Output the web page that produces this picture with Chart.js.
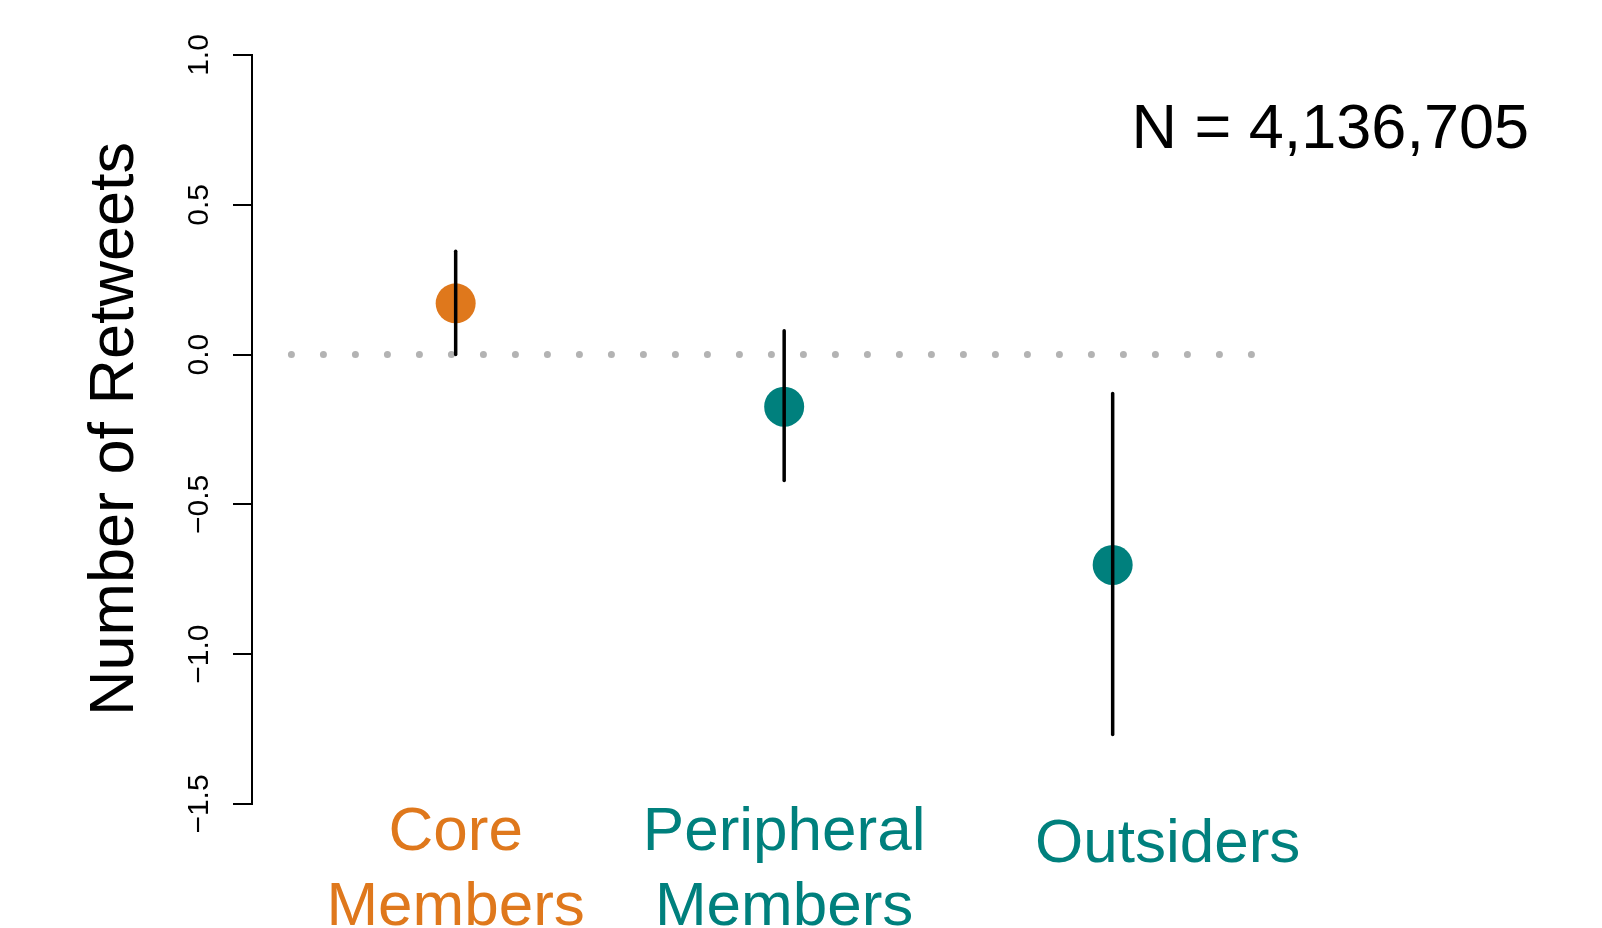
<!DOCTYPE html>
<html>
<head>
<meta charset="utf-8">
<script src="https://cdn.jsdelivr.net/npm/chart.js@4.4.1/dist/chart.umd.min.js"></script>
<style>
  html, body { margin: 0; padding: 0; background: #fff; }
  canvas { display: block; }
</style>
</head>
<body>
<canvas id="chart" width="1602" height="928"></canvas>
<script>
// data
let categorias = ['Core Members', 'Peripheral Members', 'Outsiders'];
let lineasEtiqueta = [['Core', 'Members'], ['Peripheral', 'Members'], ['Outsiders']];
let estimaciones = [0.171, -0.174, -0.702];
let limiteInferior = [0.0, -0.42, -1.268];
let limiteSuperior = [0.345, 0.08, -0.13];
let ticksY = [-1.5, -1.0, -0.5, 0.0, 0.5, 1.0];
let lineaCeroX = [0.5, 3.425];
let textoN = 'N = 4,136,705';

let colores = ['#df781c', '#00807d', '#00807d'];
let fuente = '"Liberation Sans", Arial, Helvetica, sans-serif';

let barrasError = categorias.map((c, i) => ({
    label: c + ' CI',
    type: 'line',
    data: [{ x: i + 1, y: limiteInferior[i] }, { x: i + 1, y: limiteSuperior[i] }],
    borderColor: '#000',
    borderWidth: 3.5,
    borderCapStyle: 'round',
    pointRadius: 0,
    order: 0,
}));

let datos = {
    datasets: [
        ...barrasError,
        {
            label: 'Estimate',
            type: 'line',
            showLine: false,
            data: estimaciones.map((v, i) => ({ x: i + 1, y: v })),
            pointRadius: 20,
            pointBackgroundColor: colores,
            pointBorderWidth: 0,
            order: 1,
        },
        {
            label: 'Zero',
            type: 'line',
            data: lineaCeroX.map(x => ({ x: x, y: 0 })),
            borderColor: '#b3b3b3',
            borderWidth: 7,
            borderDash: [0, 32],
            borderCapStyle: 'round',
            pointRadius: 0,
            order: 2,
        },
    ]
};

// tick labels, titles and the category names drawn as rotated / coloured text
let textos = {
    id: 'textos',
    afterDraw(chart) {
        let ctx = chart.ctx;
        let sy = chart.scales.y;
        let sx = chart.scales.x;
        ctx.save();
        ctx.fillStyle = '#000';

        // y tick labels, rotated
        ctx.font = '30px ' + fuente;
        ctx.textAlign = 'center';
        ctx.textBaseline = 'alphabetic';
        ticksY.forEach(v => {
            let py = sy.getPixelForValue(v);
            ctx.save();
            ctx.translate(208, py);
            ctx.rotate(-Math.PI / 2);
            ctx.fillText(v.toFixed(1).replace('-', '\u2212'), 0, 0);
            ctx.restore();
        });

        // y title
        ctx.font = '63px ' + fuente;
        ctx.save();
        ctx.translate(133, 429);
        ctx.rotate(-Math.PI / 2);
        ctx.fillText('Number of Retweets', 0, 0);
        ctx.restore();

        // N
        ctx.textAlign = 'right';
        ctx.fillText(textoN, 1529, 148);

        // categories
        ctx.font = '62px ' + fuente;
        ctx.textAlign = 'center';
        let desplaz = [0, 0, 55];
        lineasEtiqueta.forEach((lineas, i) => {
            let px = sx.getPixelForValue(i + 1) + desplaz[i];
            ctx.fillStyle = colores[i];
            if (lineas.length === 1) {
                ctx.fillText(lineas[0], px, 862);
            } else {
                ctx.fillText(lineas[0], px, 850);
                ctx.fillText(lineas[1], px, 925);
            }
        });
        ctx.restore();
    }
};

let opciones = {
    responsive: false,
    animation: false,
    layout: { padding: { top: 55, right: 36, bottom: 124, left: 0 } },
    scales: {
        x: { type: 'linear', min: 0.38, max: 4.38, display: false },
        y: {
            min: -1.5,
            max: 1.0,
            afterBuildTicks: s => { s.ticks = ticksY.map(v => ({ value: v })); },
            afterFit: s => { s.width = 252; },
            ticks: { display: false },
            grid: { drawOnChartArea: false, drawTicks: true, tickLength: 19, color: '#000', lineWidth: 2 },
            border: { display: true, color: '#000', width: 2 },
        }
    },
    plugins: {
        legend: { display: false },
        tooltip: { enabled: false },
    },
};

let miGrafica = new Chart(document.getElementById('chart'), {
    type: 'line',
    data: datos,
    options: opciones,
    plugins: [textos]
});
</script>
</body>
</html>
